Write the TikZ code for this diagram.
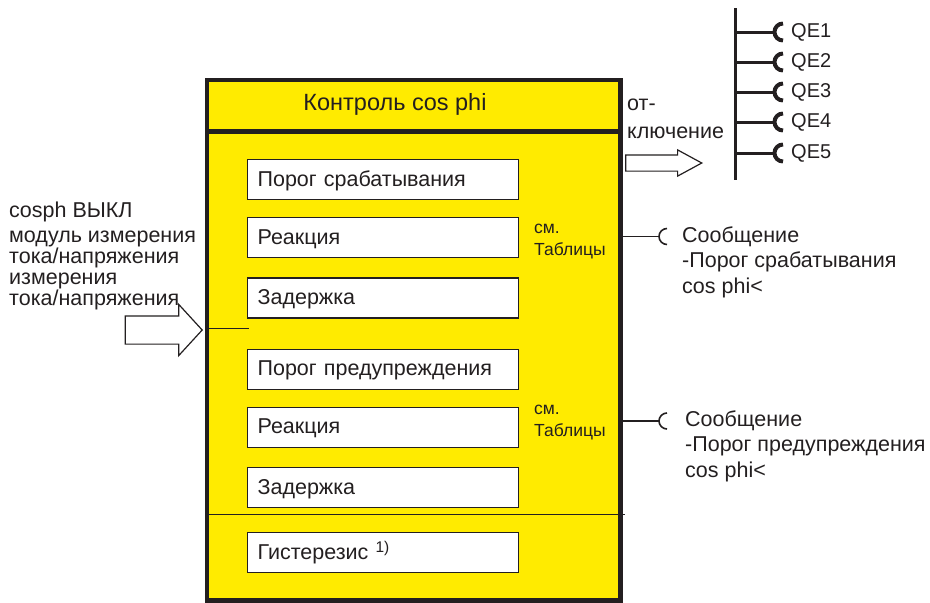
\documentclass[tikz,border=0pt]{standalone}
\usepackage{fontspec}
\setmainfont{Liberation Sans}
\usetikzlibrary{positioning,calc,shapes.arrows}
\definecolor{ink}{HTML}{231F20}
\definecolor{signal}{HTML}{FFEB00}
\tikzset{
  panel/.style={draw=ink,line width=4.5pt,fill=signal,minimum width=413.5pt,minimum height=520.5pt,inner sep=0pt,outer sep=0pt},
  field/.style={draw=ink,line width=1.2pt,fill=white,minimum width=271pt,minimum height=40pt,text width=251pt,inner xsep=10pt,align=left,font=\fontsize{21.5}{24}\selectfont,text=ink,text height=13pt,text depth=0pt},
  txt/.style={font=\fontsize{21.5}{20.7}\selectfont,text=ink,align=left,inner sep=0pt},
  msg/.style={font=\fontsize{21.5}{25.5}\selectfont,text=ink,align=left,inner sep=0pt},
  note/.style={font=\fontsize{17.5}{21.5}\selectfont,text=ink,align=left,inner sep=0pt},
  qe/.style={font=\fontsize{20}{22}\selectfont,text=ink,inner sep=0pt},
  wire/.style={draw=ink,line width=1.6pt},
  bus/.style={draw=ink,line width=3pt},
  hollow/.style={draw=ink,line width=1.2pt,fill=white,single arrow,inner xsep=0pt,anchor=tip}
}

\begin{document}
\begin{tikzpicture}[x=1pt,y=-1pt]
  \useasboundingbox (0,0) rectangle (930,603);
  % control block with title bar
  \node[panel] (ctl) at (413.75,340.25) {};
  \coordinate (headline) at (0,131.7);
  \draw[draw=ink,line width=4.5pt] (ctl.west |- headline) -- (ctl.east |- headline);
  \node[txt,font=\fontsize{23.5}{24}\selectfont,anchor=base] (title) at (395,110) {Контроль cos phi};
  % parameter fields
  \node[field,anchor=north west] (pickup) at (247,159) {Порог срабатывания};
  \node[field,below=17pt of pickup] (react1) {Реакция};
  \node[field,below=19pt of react1] (delay1) {Задержка};
  \node[field,below=30pt of delay1] (warn) {Порог предупреждения};
  \node[field,below=17pt of warn] (react2) {Реакция};
  \node[field,below=19pt of react2] (delay2) {Задержка};
  \coordinate (split) at (625,514);
  \draw[draw=ink,line width=1pt] (ctl.west |- split) -- (split);
  \node[field,anchor=north west] (hyst) at (247,532) {Гистерезис~\raisebox{7pt}{\fontsize{15.5}{15.5}\selectfont 1)}};
  % multi-line labels sit on the baseline of their last line
  \node[note,anchor=base west] (tab1) at (534,255) {см.\\Таблицы};
  \node[note,anchor=base west] (tab2) at (534,436) {см.\\Таблицы};
  % input
  \node[txt,anchor=base west] (off) at (9,217) {cosph ВЫКЛ};
  \node[txt,anchor=base west] (meas) at (9,305) {модуль измерения\\тока/напряжения\\измерения\\тока/напряжения};
  \node[hollow,inner ysep=13.5pt,minimum height=77pt,minimum width=50pt,single arrow head extend=11.5pt,single arrow tip angle=95] (feed) at (203,330) {};
  \coordinate (tap) at (249,328);
  \draw[draw=ink,line width=1pt] (ctl.west |- tap) -- (tap);
  % trip output to the breakers
  \node[txt,font=\fontsize{21.5}{28}\selectfont,anchor=base west] (tripl) at (627,138) {от-\\ключение};
  \node[hollow,inner ysep=7.5pt,minimum height=76pt,minimum width=25pt,single arrow head extend=5pt,single arrow tip angle=57] (trip) at (703,163) {};
  \coordinate (bustop) at (735,8);
  \coordinate (busbot) at (735,180);
  \draw[bus] (bustop) -- (busbot);
  \foreach \n/\y in {1/32,2/62,3/92,4/122,5/153} {
    \coordinate (qe\n) at (775,\y);
    \draw[bus] (bustop |- qe\n) -- (qe\n);
    \draw[bus,line width=4pt] ([shift={(8,8.5)}]qe\n) arc[start angle=90,end angle=270,radius=8.5];
    \node[qe,anchor=west] (qel\n) at (791,\y) {QE\n};
  }
  % messages
  \coordinate (m1) at (659,236.5);
  \draw[wire] (ctl.east |- m1) -- (m1);
  \draw[wire] ([shift={(8,8)}]m1) arc[start angle=90,end angle=270,radius=8];
  \node[msg,anchor=base west] (msg1) at (682,293) {Сообщение\\-Порог срабатывания\\cos phi<};
  \coordinate (m2) at (659,421);
  \draw[wire] (ctl.east |- m2) -- (m2);
  \draw[wire] ([shift={(8,8)}]m2) arc[start angle=90,end angle=270,radius=8];
  \node[msg,anchor=base west] (msg2) at (685,477) {Сообщение\\-Порог предупреждения\\cos phi<};
\end{tikzpicture}
\end{document}
